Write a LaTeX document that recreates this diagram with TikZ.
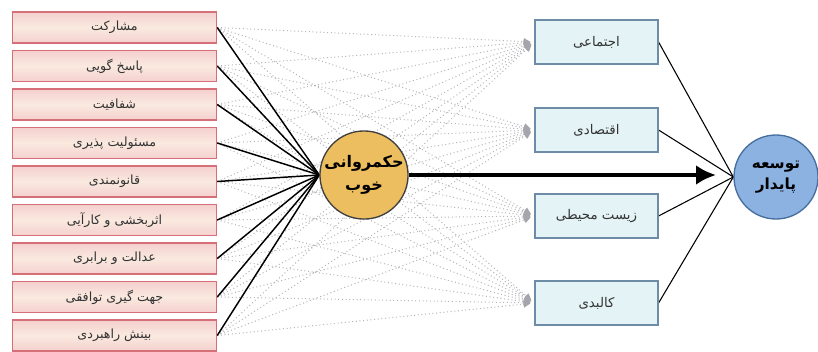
\documentclass[tikz,border=0pt]{standalone}
\usepackage{fontspec}
\newfontfamily\farsifont[Script=Arabic]{DejaVu Sans}
\TeXXeTstate=1
\usetikzlibrary{arrows.meta,backgrounds}
\newcommand{\fa}[1]{{\farsifont\beginR #1\endR}}
\definecolor{pinkline}{RGB}{214,112,120}
\definecolor{pinkfill}{RGB}{244,208,206}
\definecolor{beigefill}{RGB}{250,234,224}
\definecolor{blueline}{RGB}{110,140,165}
\definecolor{cyanfill}{RGB}{228,243,246}
\definecolor{goldfill}{RGB}{236,190,96}
\definecolor{skyfill}{RGB}{140,178,226}
\definecolor{skyline}{RGB}{70,110,160}
\definecolor{dotgray}{RGB}{180,180,186}
\definecolor{tipgray}{RGB}{165,165,172}
\tikzset{
  govbox/.style={draw=pinkline,line width=1.1pt,top color=pinkfill,bottom color=pinkfill,
    middle color=beigefill,minimum width=153pt,minimum height=23pt,inner sep=0pt,
    text=black!80,font=\fontsize{9.5}{11}\selectfont},
  dimbox/.style={draw=blueline,line width=1.1pt,fill=cyanfill,minimum width=92pt,
    minimum height=33pt,inner sep=0pt,text=black!80,font=\fontsize{10}{12}\selectfont},
  hubnode/.style={circle,draw=black!75,line width=1pt,fill=goldfill,minimum size=66pt,
    inner sep=0pt,align=center,font=\fontsize{12}{17}\selectfont\bfseries},
  goalnode/.style={circle,draw=skyline,line width=1pt,fill=skyfill,minimum size=63pt,
    inner sep=0pt,align=center,font=\fontsize{11.5}{16}\selectfont\bfseries},
  dotlink/.style={dotgray,dotted,line width=0.75pt,
    -{Triangle[length=5pt,width=5pt,color=tipgray,fill=tipgray]},shorten >=3pt},
}
\begin{document}
\begin{tikzpicture}[x=0.75pt,y=-0.75pt]
  \useasboundingbox (0,0) rectangle (818,351);
  \path
  (114.5,27.5) node[govbox] (g1) {\fa{مشارکت}} % <<< cot trai
  ++(0,38.5) node[govbox] (g2) {\fa{پاسخ گویی}}
  ++(0,38.5) node[govbox] (g3) {\fa{شفافیت}}
  ++(0,38.5) node[govbox] (g4) {\fa{مسئولیت پذیری}}
  ++(0,38.5) node[govbox] (g5) {\fa{قانونمندی}}
  ++(0,38.5) node[govbox] (g6) {\fa{اثربخشی و کارآیی}}
  ++(0,38.5) node[govbox] (g7) {\fa{عدالت و برابری}}
  ++(0,38.5) node[govbox] (g8) {\fa{جهت گیری توافقی}}
  ++(0,38.5) node[govbox] (g9) {\fa{بینش راهبردی}}
  (364,175) node[hubnode] (hk) {\fa{حکمروانی}\\\fa{خوب}} % <<< giua
  (596.5,42) node[dimbox] (d1) {\fa{اجتماعی}} % <<< cot phai
  ++(0,88) node[dimbox] (d2) {\fa{اقتصادی}}
  ++(0,86) node[dimbox] (d3) {\fa{زیست محیطی}}
  ++(0,87) node[dimbox] (d4) {\fa{کالبدی}}
  (776,177) node[goalnode] (tp) {\fa{توسعه}\\\fa{پایدار}};
  \begin{scope}[on background layer]
    \foreach \i in {1,...,9}
      \foreach \j in {1,...,4}
        \draw[dotlink] (g\i.east) -- (d\j.west);
    \foreach \i in {1,...,9}
      \draw[line width=1.1pt] (g\i.east) -- (hk.west);
    \foreach \j in {1,...,4}
      \draw[line width=0.8pt] (d\j.east) -- (tp.west);
  \end{scope}
  \draw[line width=3pt,-{Latex[length=15pt,width=15pt]},shorten >=13pt]
    (hk.east) -- (hk.east -| tp.west);
\end{tikzpicture}
\end{document}
